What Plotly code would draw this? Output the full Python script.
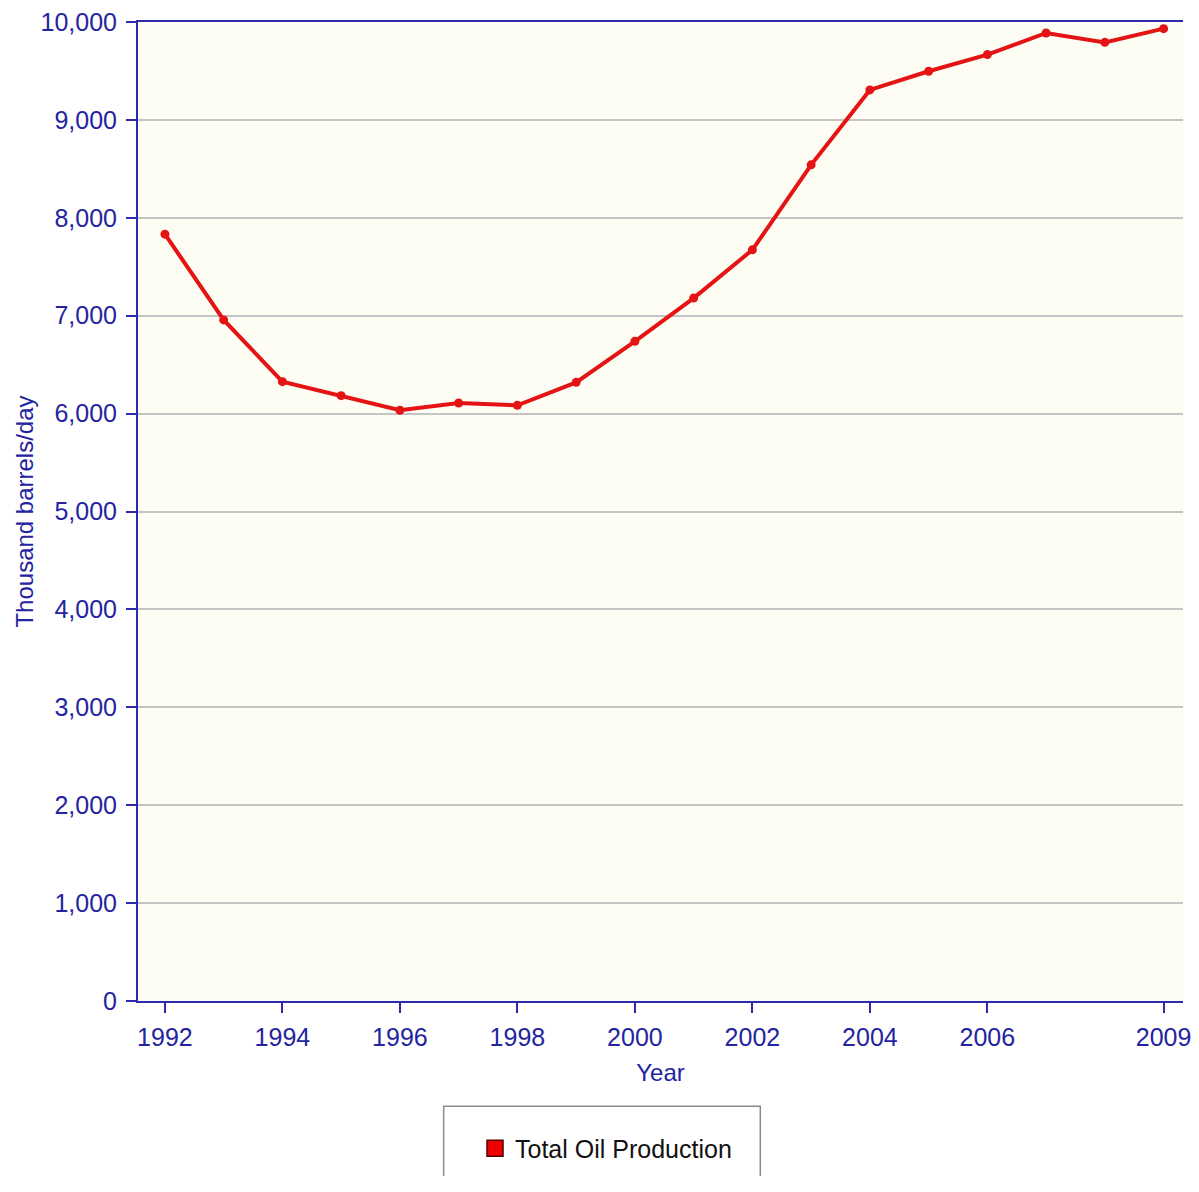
import plotly.graph_objects as go

years = [1992, 1993, 1994, 1995, 1996, 1997, 1998, 1999, 2000, 2001,
         2002, 2003, 2004, 2005, 2006, 2007, 2008, 2009]
production = [7833, 6957, 6326, 6183, 6034, 6108, 6085, 6319, 6738, 7180,
              7673, 8541, 9306, 9497, 9667, 9888, 9792, 9932]
x_tick_vals = [1992, 1994, 1996, 1998, 2000, 2002, 2004, 2006, 2009]
x_tick_text = [str(v) for v in x_tick_vals]
series_name = "Total Oil Production"

AXIS_BLUE = "#2b2bab"
TEXT_BLUE = "#2424a0"
FONT = "Liberation Sans, Arial, sans-serif"

fig = go.Figure()
fig.add_trace(go.Scatter(
    x=years, y=production, mode="lines+markers",
    line=dict(color="#e41414", width=4),
    marker=dict(color="#e41414", size=9),
    showlegend=False, hoverinfo="x+y",
))
fig.add_trace(go.Scatter(
    x=[None], y=[None], mode="markers", name=series_name,
    marker=dict(symbol="square", color="#ee0000", size=20,
                line=dict(color="#550000", width=1.5)),
))

fig.update_layout(
    width=1183, height=1168,
    margin=dict(l=130, r=0, t=10, b=175),
    paper_bgcolor="white",
    plot_bgcolor="#fdfdf4",
    font=dict(family=FONT, size=25, color=TEXT_BLUE),
    showlegend=True,
    legend=dict(x=0.3225, xanchor="left", y=-0.1506, yanchor="middle",
                bgcolor="rgba(0,0,0,0)", borderwidth=0,
                font=dict(family=FONT, size=25, color="#111111"),
                itemsizing="trace"),
    shapes=[
        dict(type="rect", xref="paper", yref="paper",
             x0=0.2925, x1=0.5955, y0=-0.1905, y1=-0.1075,
             line=dict(color="#8a8a8a", width=1.5), fillcolor="rgba(0,0,0,0)"),
    ],
)

fig.update_xaxes(
    range=[1991.542, 2009.33],
    tickvals=x_tick_vals, ticktext=x_tick_text,
    showgrid=False, zeroline=False,
    showline=True, linecolor=AXIS_BLUE, linewidth=2, mirror=True,
    ticks="outside", ticklen=10, tickwidth=2, tickcolor=AXIS_BLUE,
    ticklabelstandoff=3, ticklabeloverflow="allow",
    tickfont=dict(size=25, color=TEXT_BLUE),
    title=dict(text="Year", font=dict(size=24, color=TEXT_BLUE), standoff=14),
)
fig.update_yaxes(
    range=[0, 10000], dtick=1000, tickformat=",",
    showgrid=True, gridcolor="#c4c4c4", gridwidth=2, zeroline=False,
    showline=True, linecolor=AXIS_BLUE, linewidth=2,
    ticks="outside", ticklen=10, tickwidth=2, tickcolor=AXIS_BLUE,
    ticklabelstandoff=4, ticklabeloverflow="allow",
    tickfont=dict(size=25, color=TEXT_BLUE),
    title=dict(text="Thousand barrels/day", font=dict(size=24, color=TEXT_BLUE), standoff=0),
)

fig.write_html("out.html")
